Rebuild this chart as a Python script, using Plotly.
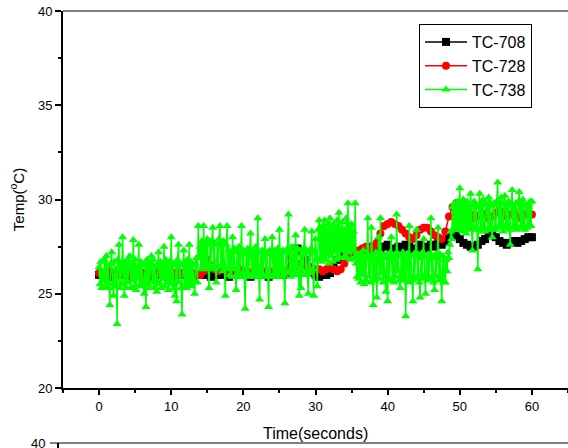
import plotly.graph_objects as go

# ---- data ----
t_bk = [i * 0.5 for i in range(121)]
tc708 = [26.0,26.1,26.0,25.9,26.0,26.1,26.0,26.0,25.9,26.0,26.1,26.0,26.0,26.1,26.0,25.9,26.0,26.0,26.1,26.0,25.9,26.0,26.0,26.1,26.0,26.0,25.9,26.0,
         26.0,26.1,26.0,25.9,26.0,26.0,26.1,26.0,25.9,26.0,26.0,26.1,26.0,26.0,25.9,26.0,26.1,26.0,26.0,25.9,26.0,26.1,26.0,26.0,26.1,
         27.0,27.3,27.4,27.2,
         26.8,26.4,26.1,26.0,25.9,26.0,26.0,26.1,
         26.5,26.8,26.9,27.2,27.4,27.3,
         27.2,27.1,27.3,27.4,27.3,27.5,27.4,27.3,27.5,27.6,27.4,27.3,27.5,27.4,27.6,27.5,27.3,27.4,27.6,27.5,27.4,27.6,27.5,27.7,27.6,
         27.8,28.0,28.1,28.1,27.9,27.7,27.6,27.5,27.5,27.6,27.8,27.9,28.1,28.2,28.0,27.8,27.7,27.6,27.7,27.8,27.7,27.8,27.9,28.0,28.0]
tc728 = [26.1,26.0,26.1,26.2,26.1,26.0,26.1,26.1,26.0,26.1,26.2,26.1,26.0,26.1,26.1,26.0,26.1,26.2,26.1,26.0,26.1,26.1,26.0,26.1,26.1,26.0,26.1,26.1,
         26.0,26.2,26.8,26.5,26.3,26.2,26.3,26.3,26.2,26.1,26.2,26.3,26.2,26.2,26.1,26.2,26.3,26.2,26.2,26.1,26.2,26.2,26.1,26.2,26.2,26.3,26.4,26.5,26.6,26.5,26.4,26.3,26.3,
         26.3,26.2,26.3,26.4,26.3,26.2,26.3,
         26.6,27.0,27.2,27.3,27.3,27.4,
         27.5,27.4,27.5,27.7,
         28.2,28.6,28.7,28.8,28.7,28.6,
         28.4,28.2,28.0,27.9,28.1,
         28.4,28.5,28.5,28.3,28.1,28.0,
         27.9,28.3,29.1,29.6,29.8,
         29.5,29.3,29.1,29.2,29.0,29.1,29.3,29.2,29.0,29.1,29.3,29.4,29.2,29.1,29.2,29.3,29.1,29.0,29.2,29.3,29.2]
t_gr = [i * 0.125 for i in range(481)]
tc738 = [
    26.4,25.5,26.7,25.3,26.2,25.7,26.8,25.4,27.0,25.6,26.5,25.3,24.4,26.6,27.2,25.5,
    24.9,26.7,25.4,26.3,23.4,26.8,27.6,25.3,26.6,25.5,28.0,26.2,24.9,26.7,25.3,26.5,
    25.6,26.8,27.0,25.3,26.5,25.7,27.85,25.4,26.8,25.2,26.4,25.8,27.6,25.4,26.7,25.6,
    26.6,25.4,25.0,26.5,24.3,26.8,25.5,26.7,25.3,26.5,27.0,25.6,26.8,25.3,26.4,25.7,
    25.1,26.6,27.2,25.5,26.7,25.3,26.5,25.8,27.5,25.4,26.8,25.6,26.6,25.2,26.7,25.7,
    28.0,25.5,26.6,25.3,24.9,26.5,24.6,26.8,27.6,25.6,26.5,25.3,23.9,26.6,27.3,25.4,
    26.7,25.3,26.8,25.6,27.6,25.5,26.7,25.4,26.5,25.7,25.0,26.6,26.9,25.6,28.6,26.9,
    27.5,26.3,27.8,26.5,28.6,26.4,27.7,26.6,27.9,26.3,25.3,27.6,26.4,27.8,28.5,26.5,
    27.7,26.3,25.6,27.6,26.5,27.9,28.6,26.4,27.7,26.2,27.8,26.5,24.9,27.6,28.6,26.3,
    27.3,26.0,27.2,25.9,28.0,26.3,27.4,25.9,25.2,27.2,26.0,27.5,25.9,27.1,28.6,26.1,
    27.3,25.9,24.2,27.1,26.1,27.4,25.9,27.2,28.2,26.0,27.3,25.9,27.0,26.0,27.5,25.9,
    29.0,26.2,24.7,27.2,25.9,27.3,26.0,27.1,27.9,25.9,27.2,26.1,24.3,27.3,25.9,27.1,
    28.0,26.0,27.3,25.9,27.1,26.1,27.4,25.9,28.4,26.2,27.2,25.9,27.3,26.0,24.5,27.2,
    26.1,27.4,29.2,26.2,27.3,25.9,27.5,26.3,27.2,26.0,28.1,26.4,27.4,26.1,24.9,27.3,
    25.3,27.1,26.0,27.4,28.4,26.2,27.3,26.0,25.0,27.2,26.1,27.4,28.3,26.3,24.9,27.2,
    27.9,26.8,25.4,28.4,28.9,26.9,28.5,26.7,28.6,27.0,28.9,26.8,28.4,27.1,28.7,26.6,
    29.0,27.0,28.5,26.7,28.7,27.2,28.4,26.8,28.9,27.0,29.3,26.9,28.5,27.3,28.8,26.9,
    28.4,27.0,29.0,26.9,29.8,27.2,28.6,26.8,28.7,27.3,28.3,26.9,29.8,26.6,25.9,27.1,
    25.8,27.1,25.6,27.0,26.0,27.3,25.5,26.9,25.7,27.1,29.0,25.9,27.0,25.6,28.5,26.9,
    24.4,27.0,25.7,27.2,24.8,26.8,28.0,25.8,29.0,26.1,27.1,25.6,26.9,25.9,25.1,27.1,
    24.6,26.9,25.7,27.2,28.0,25.8,27.0,25.6,27.1,25.9,29.2,26.2,27.1,25.7,25.3,27.0,
    25.8,27.2,25.7,26.9,23.8,26.6,27.1,25.6,28.6,25.9,27.0,25.7,24.6,27.1,25.8,27.2,
    28.4,25.9,27.1,25.6,24.8,26.9,25.8,27.2,27.9,26.0,25.0,27.0,25.7,27.1,25.9,26.9,
    29.0,25.8,27.0,25.6,25.2,27.1,25.9,26.9,28.5,25.7,27.1,25.8,24.6,27.0,25.6,26.8,
    25.6,26.8,26.2,27.2,26.9,27.6,28.3,27.9,29.6,28.4,29.8,28.5,29.5,28.6,29.9,28.4,
    30.6,28.5,29.8,28.3,30.0,28.6,29.7,28.2,29.9,28.5,29.6,28.4,30.3,28.6,27.3,29.7,
    29.9,28.4,29.7,28.5,26.3,29.6,30.3,28.4,29.8,28.3,30.0,28.5,28.3,29.8,29.7,28.4,
    30.1,28.5,29.8,28.4,28.0,29.7,29.8,28.5,28.4,29.9,30.9,28.6,29.8,28.5,30.1,28.7,
    28.3,29.8,30.2,28.5,29.7,28.6,29.9,28.4,27.6,29.7,30.5,28.5,29.6,28.6,29.8,28.4,
    28.5,29.9,30.4,28.5,29.8,28.6,30.0,28.6,28.4,29.7,29.7,28.5,29.6,28.7,29.9,28.6,
    29.9]

x_ticks = [0, 10, 20, 30, 40, 50, 60]
y_ticks = [20, 25, 30, 35, 40]

FONT = "Liberation Sans, Arial, sans-serif"

fig = go.Figure()
fig.add_trace(go.Scatter(x=t_bk, y=tc708, mode="lines+markers", name="TC-708",
                         line=dict(color="#000000", width=1.5),
                         marker=dict(symbol="square", size=8, color="#000000")))
fig.add_trace(go.Scatter(x=t_bk, y=tc728, mode="lines+markers", name="TC-728",
                         line=dict(color="#ff0000", width=1.5),
                         marker=dict(symbol="circle", size=8, color="#ff0000")))
fig.add_trace(go.Scatter(x=t_gr, y=tc738, mode="lines+markers", name="TC-738",
                         line=dict(color="#00ff00", width=1.5),
                         marker=dict(symbol="triangle-up", size=8, color="#00ff00")))

W, H = 568, 448
L, R, T, B = 63, 0, 11, 60
pw, ph = W - L - R, H - T - B
def px(xp): return (xp - L) / pw
def py(yp): return (H - B - yp) / ph

fig.update_layout(
    width=W, height=H,
    margin=dict(l=L, r=R, t=T, b=B),
    paper_bgcolor="white", plot_bgcolor="white",
    font=dict(family=FONT, color="#000000", size=13),
    showlegend=True,
    legend=dict(x=px(419), y=py(24), xanchor="left", yanchor="top",
                bgcolor="white", bordercolor="#000000", borderwidth=1,
                font=dict(size=16, family=FONT), itemwidth=42,
                tracegroupgap=0),
)
fig.update_xaxes(range=[-5, 65], tickvals=x_ticks, ticks="outside", ticklen=5,
                 tickwidth=1.5, tickcolor="#000", showline=True, linecolor="#000",
                 linewidth=2, showgrid=False, zeroline=False,
                 tickfont=dict(size=13, family=FONT),
                 minor=dict(dtick=5, tick0=0, ticks="outside", ticklen=3, tickcolor="#000", showgrid=False))
fig.update_yaxes(range=[20, 40], tickvals=y_ticks, ticks="outside", ticklen=6,
                 tickwidth=1.5, tickcolor="#000", showline=True, linecolor="#000",
                 linewidth=2, showgrid=False, zeroline=False,
                 tickfont=dict(size=13, family=FONT),
                 title=dict(text="Temp(<sup>o</sup>C)", font=dict(size=15, family=FONT), standoff=10),
                 minor=dict(dtick=2.5, tick0=20, ticks="outside", ticklen=3, tickcolor="#000", showgrid=False))

# top frame line
fig.add_shape(type="line", xref="paper", yref="paper", x0=0, x1=1, y0=1, y1=1,
              line=dict(color="#555555", width=1.5))
# x-axis title
fig.add_annotation(text="Time(seconds)", xref="paper", yref="paper", x=0.5, y=py(433),
                   showarrow=False, font=dict(size=16, family=FONT), xanchor="center", yanchor="middle")
# start of next chart (partially visible)
fig.add_shape(type="line", xref="paper", yref="paper", x0=px(50), x1=1, y0=py(443), y1=py(443),
              line=dict(color="#555555", width=1.5))
fig.add_shape(type="line", xref="paper", yref="paper", x0=px(58), x1=px(58), y0=py(443), y1=py(449),
              line=dict(color="#000000", width=2))
fig.add_annotation(text="40", xref="paper", yref="paper", x=px(47), y=py(443),
                   showarrow=False, font=dict(size=13, family=FONT), xanchor="right", yanchor="middle")

fig.write_html("out.html")
